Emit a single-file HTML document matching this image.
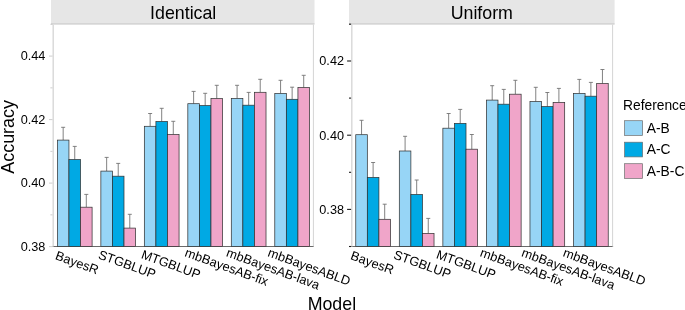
<!DOCTYPE html>
<html><head><meta charset="utf-8"><title>chart</title>
<style>
html,body{margin:0;padding:0;background:#fff;}
body{width:685px;height:310px;overflow:hidden;}
svg{display:block;will-change:transform;font-family:"Liberation Sans",sans-serif;}
</style></head><body>
<svg width="685" height="310" viewBox="0 0 685 310">
<rect width="685" height="310" fill="#fff"/>
<rect x="51" y="0" width="263.50" height="24.0" fill="#e6e6e6"/>
<line x1="51" y1="24.0" x2="314.5" y2="24.0" stroke="#c4c4c4" stroke-width="1"/>
<text x="183.20" y="18.6" font-size="17.8" text-anchor="middle" fill="#000">Identical</text>
<line x1="52.50" y1="246.5" x2="313.90" y2="246.5" stroke="#6a6a6a" stroke-width="1"/>
<path d="M61.17 127.30H65.17M63.17 127.30V140.10" stroke="#747474" stroke-width="0.9" fill="none"/>
<path d="M72.74 146.40H76.74M74.74 146.40V159.60" stroke="#747474" stroke-width="0.9" fill="none"/>
<path d="M84.31 194.40H88.31M86.31 194.40V207.20" stroke="#747474" stroke-width="0.9" fill="none"/>
<rect x="57.38" y="140.10" width="11.57" height="106.40" fill="#97d5f6" stroke="#303030" stroke-width="0.72"/>
<rect x="68.95" y="159.60" width="11.57" height="86.90" fill="#00a9e4" stroke="#303030" stroke-width="0.72"/>
<rect x="80.53" y="207.20" width="11.57" height="39.30" fill="#f0a5c9" stroke="#303030" stroke-width="0.72"/>
<path d="M104.65 157.40H108.65M106.65 157.40V171.10" stroke="#747474" stroke-width="0.9" fill="none"/>
<path d="M116.22 163.40H120.22M118.22 163.40V176.20" stroke="#747474" stroke-width="0.9" fill="none"/>
<path d="M127.79 214.30H131.79M129.79 214.30V228.10" stroke="#747474" stroke-width="0.9" fill="none"/>
<rect x="100.86" y="171.10" width="11.57" height="75.40" fill="#97d5f6" stroke="#303030" stroke-width="0.72"/>
<rect x="112.43" y="176.20" width="11.57" height="70.30" fill="#00a9e4" stroke="#303030" stroke-width="0.72"/>
<rect x="124.01" y="228.10" width="11.57" height="18.40" fill="#f0a5c9" stroke="#303030" stroke-width="0.72"/>
<path d="M148.13 113.50H152.13M150.13 113.50V126.30" stroke="#747474" stroke-width="0.9" fill="none"/>
<path d="M159.70 108.30H163.70M161.70 108.30V121.50" stroke="#747474" stroke-width="0.9" fill="none"/>
<path d="M171.27 121.30H175.27M173.27 121.30V134.50" stroke="#747474" stroke-width="0.9" fill="none"/>
<rect x="144.34" y="126.30" width="11.57" height="120.20" fill="#97d5f6" stroke="#303030" stroke-width="0.72"/>
<rect x="155.91" y="121.50" width="11.57" height="125.00" fill="#00a9e4" stroke="#303030" stroke-width="0.72"/>
<rect x="167.49" y="134.50" width="11.57" height="112.00" fill="#f0a5c9" stroke="#303030" stroke-width="0.72"/>
<path d="M191.61 91.40H195.61M193.61 91.40V103.70" stroke="#747474" stroke-width="0.9" fill="none"/>
<path d="M203.18 93.30H207.18M205.18 93.30V105.60" stroke="#747474" stroke-width="0.9" fill="none"/>
<path d="M214.75 85.30H218.75M216.75 85.30V98.60" stroke="#747474" stroke-width="0.9" fill="none"/>
<rect x="187.82" y="103.70" width="11.57" height="142.80" fill="#97d5f6" stroke="#303030" stroke-width="0.72"/>
<rect x="199.39" y="105.60" width="11.57" height="140.90" fill="#00a9e4" stroke="#303030" stroke-width="0.72"/>
<rect x="210.97" y="98.60" width="11.57" height="147.90" fill="#f0a5c9" stroke="#303030" stroke-width="0.72"/>
<path d="M235.09 85.30H239.09M237.09 85.30V98.40" stroke="#747474" stroke-width="0.9" fill="none"/>
<path d="M246.66 92.40H250.66M248.66 92.40V105.20" stroke="#747474" stroke-width="0.9" fill="none"/>
<path d="M258.23 79.30H262.23M260.23 79.30V92.30" stroke="#747474" stroke-width="0.9" fill="none"/>
<rect x="231.30" y="98.40" width="11.57" height="148.10" fill="#97d5f6" stroke="#303030" stroke-width="0.72"/>
<rect x="242.87" y="105.20" width="11.57" height="141.30" fill="#00a9e4" stroke="#303030" stroke-width="0.72"/>
<rect x="254.45" y="92.30" width="11.57" height="154.20" fill="#f0a5c9" stroke="#303030" stroke-width="0.72"/>
<path d="M278.57 80.30H282.57M280.57 80.30V93.40" stroke="#747474" stroke-width="0.9" fill="none"/>
<path d="M290.14 87.20H294.14M292.14 87.20V99.30" stroke="#747474" stroke-width="0.9" fill="none"/>
<path d="M301.71 75.30H305.71M303.71 75.30V87.50" stroke="#747474" stroke-width="0.9" fill="none"/>
<rect x="274.78" y="93.40" width="11.57" height="153.10" fill="#97d5f6" stroke="#303030" stroke-width="0.72"/>
<rect x="286.35" y="99.30" width="11.57" height="147.20" fill="#00a9e4" stroke="#303030" stroke-width="0.72"/>
<rect x="297.93" y="87.50" width="11.57" height="159.00" fill="#f0a5c9" stroke="#303030" stroke-width="0.72"/>
<line x1="53.20" y1="24.5" x2="53.20" y2="246.5" stroke="#dadada" stroke-width="1.5"/>
<line x1="313.40" y1="24.5" x2="313.40" y2="246.5" stroke="#d4d4d4" stroke-width="1"/>
<line x1="49.00" y1="246.6" x2="52.50" y2="246.6" stroke="#c8c8c8" stroke-width="0.9"/>
<line x1="49.00" y1="183.1" x2="52.50" y2="183.1" stroke="#c8c8c8" stroke-width="0.9"/>
<line x1="49.00" y1="119.6" x2="52.50" y2="119.6" stroke="#c8c8c8" stroke-width="0.9"/>
<line x1="49.00" y1="56.1" x2="52.50" y2="56.1" stroke="#c8c8c8" stroke-width="0.9"/>
<line x1="50.40" y1="214.85" x2="52.50" y2="214.85" stroke="#c8c8c8" stroke-width="0.9"/>
<line x1="50.40" y1="151.35" x2="52.50" y2="151.35" stroke="#c8c8c8" stroke-width="0.9"/>
<line x1="50.40" y1="87.85" x2="52.50" y2="87.85" stroke="#c8c8c8" stroke-width="0.9"/>
<line x1="50.40" y1="24.3" x2="52.50" y2="24.3" stroke="#c8c8c8" stroke-width="0.9"/>
<text x="45.40" y="250.90" font-size="12.7" text-anchor="end" fill="#000">0.38</text>
<text x="45.40" y="187.40" font-size="12.7" text-anchor="end" fill="#000">0.40</text>
<text x="45.40" y="123.90" font-size="12.7" text-anchor="end" fill="#000">0.42</text>
<text x="45.40" y="60.40" font-size="12.7" text-anchor="end" fill="#000">0.44</text>
<text transform="translate(54.60 259.10) rotate(20)" font-size="12.8" fill="#000">BayesR</text>
<text transform="translate(97.60 258.20) rotate(20)" font-size="12.8" fill="#000">STGBLUP</text>
<text transform="translate(140.40 257.90) rotate(20)" font-size="12.8" fill="#000">MTGBLUP</text>
<text transform="translate(184.05 256.00) rotate(20)" font-size="12.8" fill="#000">mbBayesAB-fix</text>
<text transform="translate(225.55 256.00) rotate(20)" font-size="12.8" fill="#000">mbBayesAB-lava</text>
<text transform="translate(266.95 256.00) rotate(20)" font-size="12.8" fill="#000">mbBayesABLD</text>
<rect x="349" y="0" width="265.60" height="24.0" fill="#e6e6e6"/>
<line x1="349" y1="24.0" x2="614.6" y2="24.0" stroke="#c4c4c4" stroke-width="1"/>
<text x="481.80" y="18.6" font-size="17.8" text-anchor="middle" fill="#000">Uniform</text>
<line x1="351.10" y1="246.5" x2="613.10" y2="246.5" stroke="#6a6a6a" stroke-width="1"/>
<path d="M359.55 120.30H363.55M361.55 120.30V134.70" stroke="#747474" stroke-width="0.9" fill="none"/>
<path d="M371.12 162.50H375.12M373.12 162.50V177.40" stroke="#747474" stroke-width="0.9" fill="none"/>
<path d="M382.70 204.20H386.70M384.70 204.20V219.30" stroke="#747474" stroke-width="0.9" fill="none"/>
<rect x="355.76" y="134.70" width="11.57" height="111.80" fill="#97d5f6" stroke="#303030" stroke-width="0.72"/>
<rect x="367.34" y="177.40" width="11.57" height="69.10" fill="#00a9e4" stroke="#303030" stroke-width="0.72"/>
<rect x="378.91" y="219.30" width="11.57" height="27.20" fill="#f0a5c9" stroke="#303030" stroke-width="0.72"/>
<path d="M403.10 136.30H407.10M405.10 136.30V151.00" stroke="#747474" stroke-width="0.9" fill="none"/>
<path d="M414.68 180.00H418.68M416.68 180.00V194.50" stroke="#747474" stroke-width="0.9" fill="none"/>
<path d="M426.25 218.40H430.25M428.25 218.40V233.40" stroke="#747474" stroke-width="0.9" fill="none"/>
<rect x="399.31" y="151.00" width="11.57" height="95.50" fill="#97d5f6" stroke="#303030" stroke-width="0.72"/>
<rect x="410.89" y="194.50" width="11.57" height="52.00" fill="#00a9e4" stroke="#303030" stroke-width="0.72"/>
<rect x="422.46" y="233.40" width="11.57" height="13.10" fill="#f0a5c9" stroke="#303030" stroke-width="0.72"/>
<path d="M446.65 113.50H450.65M448.65 113.50V128.20" stroke="#747474" stroke-width="0.9" fill="none"/>
<path d="M458.23 109.40H462.23M460.23 109.40V123.40" stroke="#747474" stroke-width="0.9" fill="none"/>
<path d="M469.80 134.50H473.80M471.80 134.50V149.20" stroke="#747474" stroke-width="0.9" fill="none"/>
<rect x="442.87" y="128.20" width="11.57" height="118.30" fill="#97d5f6" stroke="#303030" stroke-width="0.72"/>
<rect x="454.44" y="123.40" width="11.57" height="123.10" fill="#00a9e4" stroke="#303030" stroke-width="0.72"/>
<rect x="466.01" y="149.20" width="11.57" height="97.30" fill="#f0a5c9" stroke="#303030" stroke-width="0.72"/>
<path d="M490.20 85.70H494.20M492.20 85.70V100.10" stroke="#747474" stroke-width="0.9" fill="none"/>
<path d="M501.77 89.40H505.77M503.77 89.40V104.20" stroke="#747474" stroke-width="0.9" fill="none"/>
<path d="M513.35 80.30H517.35M515.35 80.30V94.20" stroke="#747474" stroke-width="0.9" fill="none"/>
<rect x="486.41" y="100.10" width="11.57" height="146.40" fill="#97d5f6" stroke="#303030" stroke-width="0.72"/>
<rect x="497.99" y="104.20" width="11.57" height="142.30" fill="#00a9e4" stroke="#303030" stroke-width="0.72"/>
<rect x="509.56" y="94.20" width="11.57" height="152.30" fill="#f0a5c9" stroke="#303030" stroke-width="0.72"/>
<path d="M533.75 87.30H537.75M535.75 87.30V101.60" stroke="#747474" stroke-width="0.9" fill="none"/>
<path d="M545.33 92.50H549.33M547.33 92.50V106.60" stroke="#747474" stroke-width="0.9" fill="none"/>
<path d="M556.90 88.40H560.90M558.90 88.40V102.40" stroke="#747474" stroke-width="0.9" fill="none"/>
<rect x="529.97" y="101.60" width="11.57" height="144.90" fill="#97d5f6" stroke="#303030" stroke-width="0.72"/>
<rect x="541.54" y="106.60" width="11.57" height="139.90" fill="#00a9e4" stroke="#303030" stroke-width="0.72"/>
<rect x="553.11" y="102.40" width="11.57" height="144.10" fill="#f0a5c9" stroke="#303030" stroke-width="0.72"/>
<path d="M577.30 79.40H581.30M579.30 79.40V93.40" stroke="#747474" stroke-width="0.9" fill="none"/>
<path d="M588.88 82.40H592.88M590.88 82.40V96.20" stroke="#747474" stroke-width="0.9" fill="none"/>
<path d="M600.45 69.50H604.45M602.45 69.50V83.60" stroke="#747474" stroke-width="0.9" fill="none"/>
<rect x="573.51" y="93.40" width="11.57" height="153.10" fill="#97d5f6" stroke="#303030" stroke-width="0.72"/>
<rect x="585.09" y="96.20" width="11.57" height="150.30" fill="#00a9e4" stroke="#303030" stroke-width="0.72"/>
<rect x="596.66" y="83.60" width="11.57" height="162.90" fill="#f0a5c9" stroke="#303030" stroke-width="0.72"/>
<line x1="351.80" y1="24.5" x2="351.80" y2="246.5" stroke="#dadada" stroke-width="1.5"/>
<line x1="612.60" y1="24.5" x2="612.60" y2="246.5" stroke="#d4d4d4" stroke-width="1"/>
<line x1="347.10" y1="209.4" x2="351.10" y2="209.4" stroke="#1c1c1c" stroke-width="1.1"/>
<line x1="347.10" y1="135.2" x2="351.10" y2="135.2" stroke="#1c1c1c" stroke-width="1.1"/>
<line x1="347.10" y1="61.0" x2="351.10" y2="61.0" stroke="#1c1c1c" stroke-width="1.1"/>
<line x1="349.00" y1="246.5" x2="351.10" y2="246.5" stroke="#1c1c1c" stroke-width="1.1"/>
<line x1="349.00" y1="172.3" x2="351.10" y2="172.3" stroke="#1c1c1c" stroke-width="1.1"/>
<line x1="349.00" y1="98.1" x2="351.10" y2="98.1" stroke="#1c1c1c" stroke-width="1.1"/>
<line x1="349.00" y1="24.2" x2="351.10" y2="24.2" stroke="#1c1c1c" stroke-width="1.1"/>
<text x="344.00" y="213.70" font-size="12.7" text-anchor="end" fill="#000">0.38</text>
<text x="344.00" y="139.50" font-size="12.7" text-anchor="end" fill="#000">0.40</text>
<text x="344.00" y="65.30" font-size="12.7" text-anchor="end" fill="#000">0.42</text>
<text transform="translate(349.80 259.10) rotate(20)" font-size="12.8" fill="#000">BayesR</text>
<text transform="translate(392.80 258.20) rotate(20)" font-size="12.8" fill="#000">STGBLUP</text>
<text transform="translate(435.60 257.90) rotate(20)" font-size="12.8" fill="#000">MTGBLUP</text>
<text transform="translate(479.25 256.00) rotate(20)" font-size="12.8" fill="#000">mbBayesAB-fix</text>
<text transform="translate(520.75 256.00) rotate(20)" font-size="12.8" fill="#000">mbBayesAB-lava</text>
<text transform="translate(562.15 256.00) rotate(20)" font-size="12.8" fill="#000">mbBayesABLD</text>
<text transform="translate(13.8 136.9) rotate(-90)" font-size="17.9" text-anchor="middle" fill="#000">Accuracy</text>
<text x="331.9" y="310.2" font-size="17.8" text-anchor="middle" fill="#000">Model</text>
<text x="623.0" y="110.3" font-size="13.8" fill="#000">Reference</text>
<rect x="624.6" y="120.70" width="18" height="14.7" fill="#97d5f6" stroke="#6e6e6e" stroke-width="0.7"/>
<text x="646.8" y="132.60" font-size="13.8" fill="#000">A-B</text>
<rect x="624.6" y="142.20" width="18" height="14.7" fill="#00a9e4" stroke="#6e6e6e" stroke-width="0.7"/>
<text x="646.8" y="154.10" font-size="13.8" fill="#000">A-C</text>
<rect x="624.6" y="163.70" width="18" height="14.7" fill="#f0a5c9" stroke="#6e6e6e" stroke-width="0.7"/>
<text x="646.8" y="175.60" font-size="13.8" fill="#000">A-B-C</text>
</svg>
</body></html>
